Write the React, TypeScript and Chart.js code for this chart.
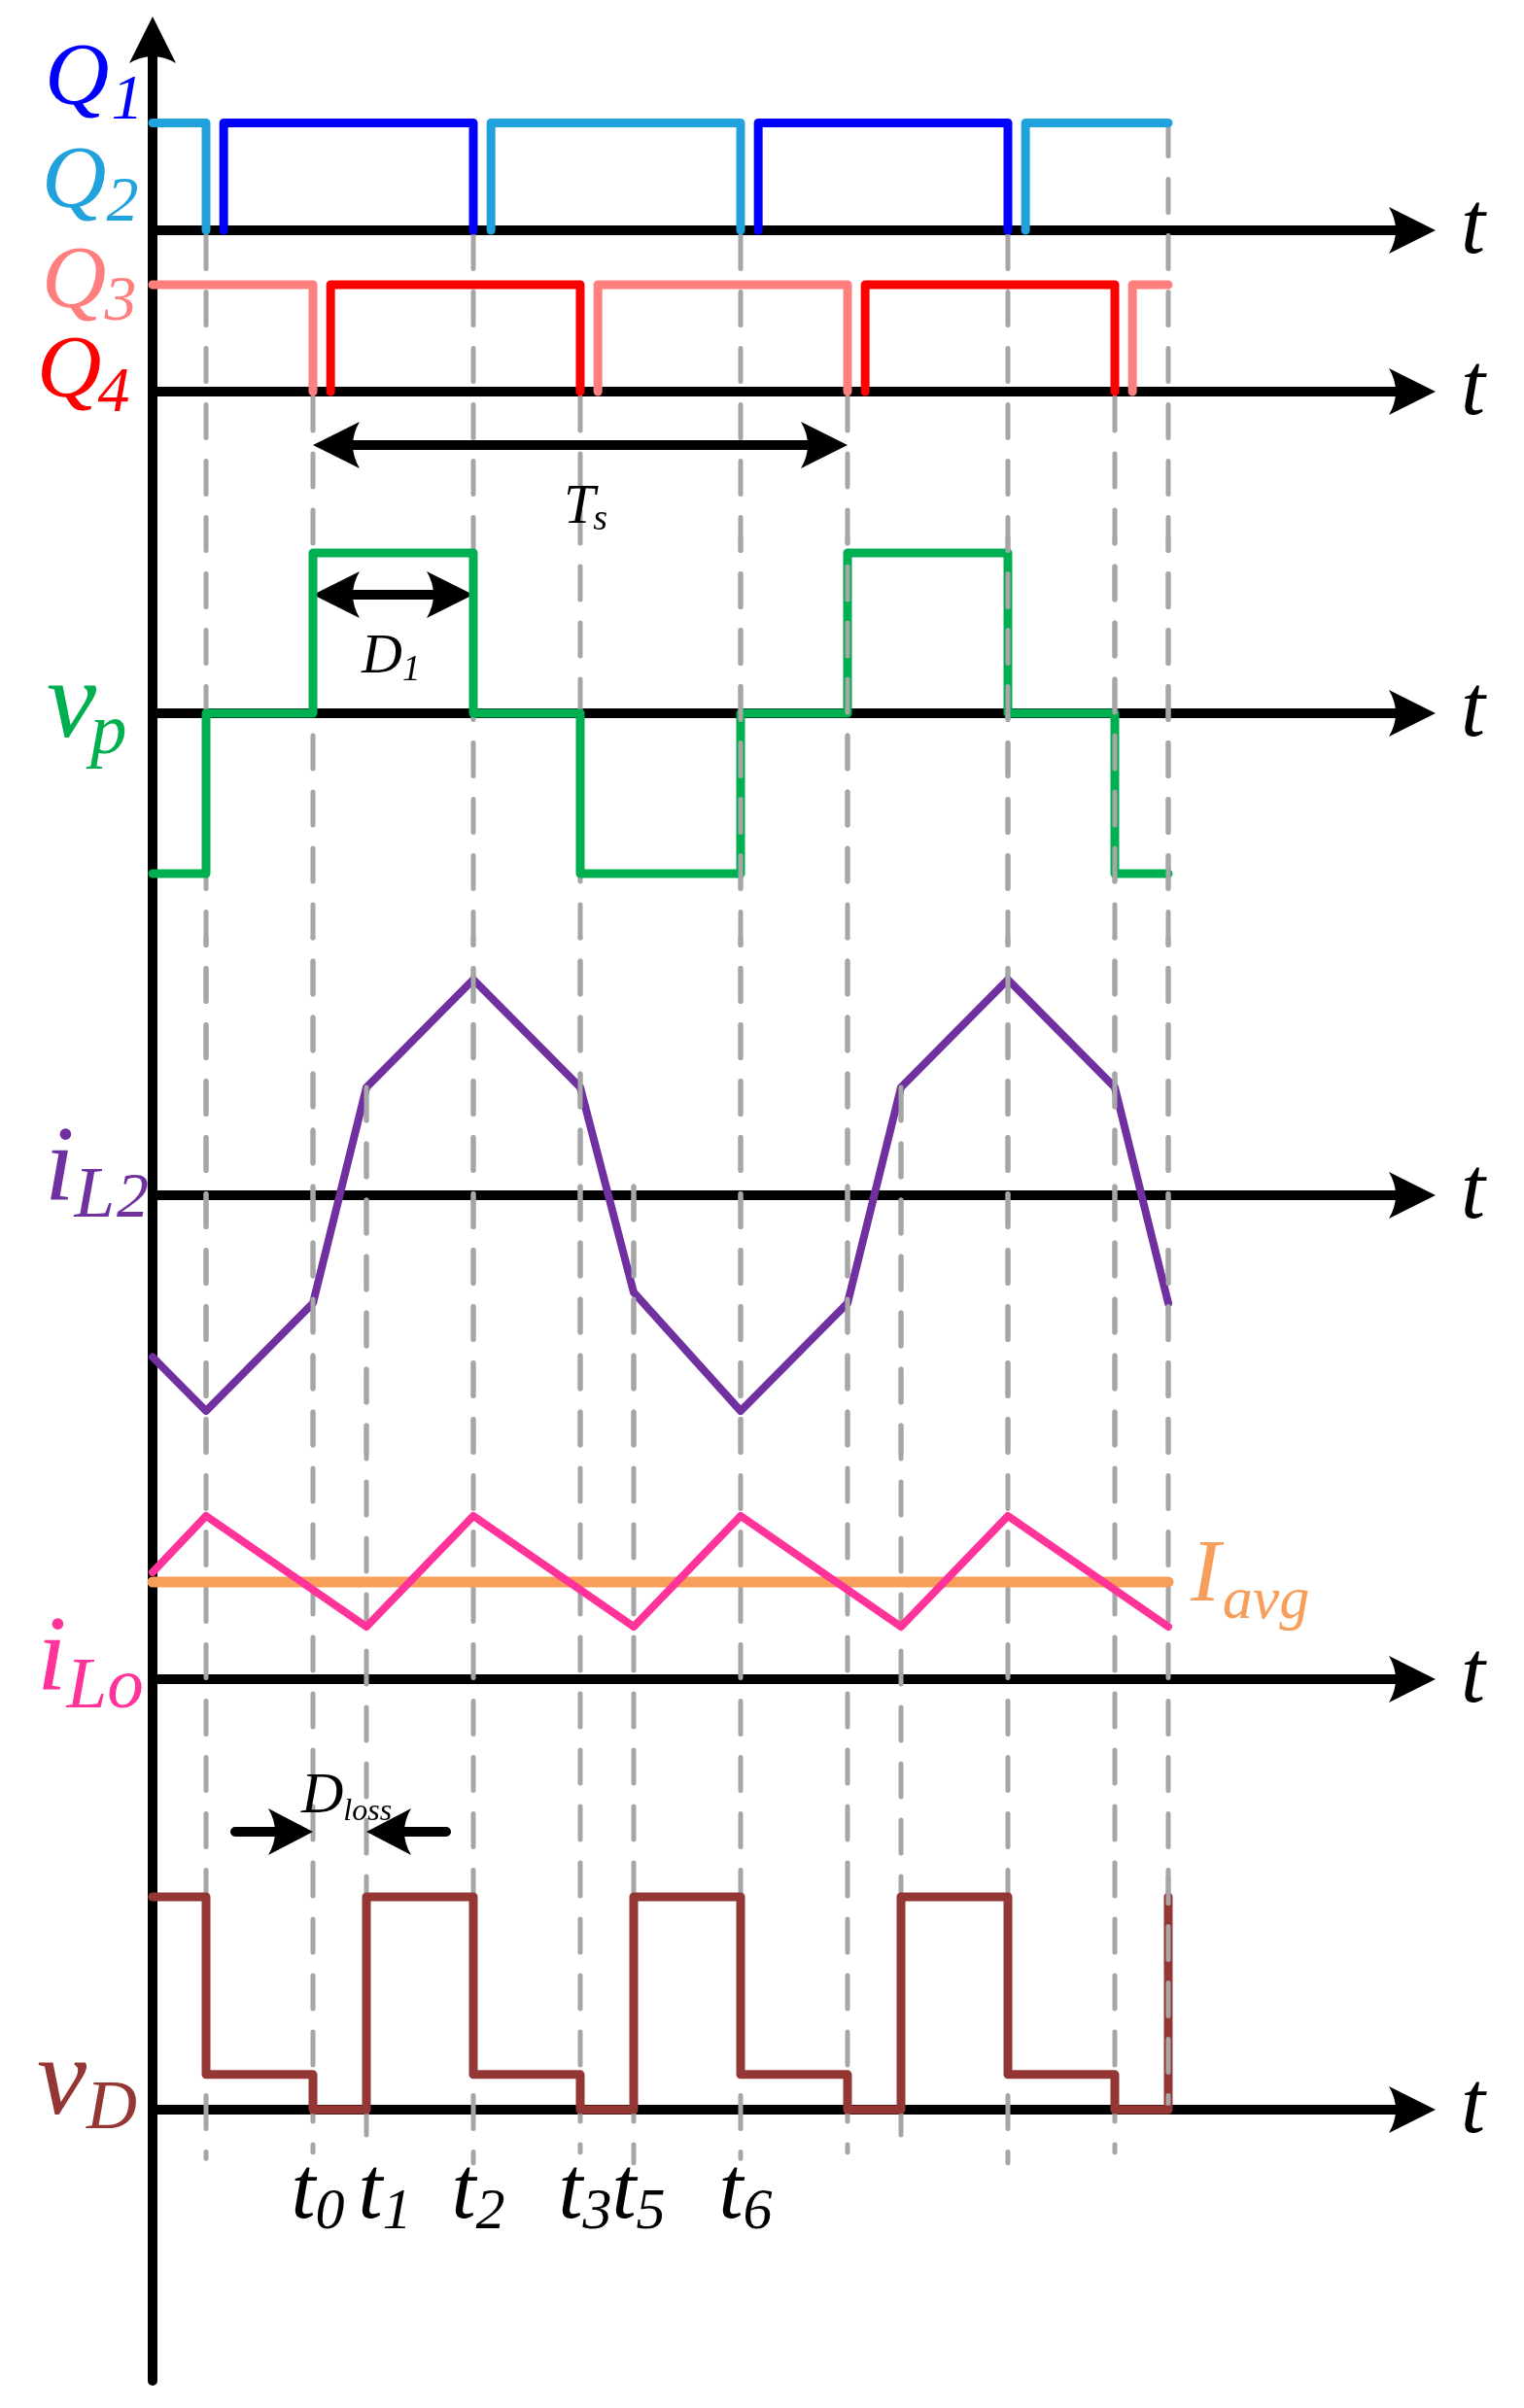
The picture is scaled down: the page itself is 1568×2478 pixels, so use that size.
import React, { useEffect, useRef } from 'react';
import { Chart, registerables } from 'chart.js';

Chart.register(...registerables);

const W = 1568;
const H = 2478;

// ---------- data (time in grid units, amplitudes normalised per panel) ----------
const T_END = 19;
const AXIS_END = 24;

const q1On = [[1.33, 6], [11.33, 16]];
const q2On = [[0, 1], [6.33, 11], [16.33, 19]];
const q3On = [[0, 3], [8.33, 13], [18.33, 19]];
const q4On = [[3.33, 8], [13.33, 18]];

const vpTimes = [0, 1, 3, 6, 8, 11, 13, 16, 18, 19];
const vpLevels = [-1, 0, 1, 0, -1, 0, 1, 0, -1];

const iL2Times = [0, 1, 3, 4, 6, 8, 9, 11, 13, 14, 16, 18, 19];
const iL2Values = [-0.75, -1, -0.5, 0.5, 1, 0.5, -0.45, -1, -0.5, 0.5, 1, 0.5, -0.5];

const iLoTimes = [0, 1, 4, 6, 9, 11, 14, 16, 19];
const iLoValues = [1.1, 1.68, 0.54, 1.68, 0.54, 1.68, 0.54, 1.68, 0.54];
const iAvgValue = 1.0;

const vDTimes = [0, 1, 3, 4, 6, 8, 9, 11, 13, 14, 16, 18, 19];
const vDLevels = [1, 0.165, 0, 1, 0.165, 0, 1, 0.165, 0, 1, 0.165, 0, 1];

const guideTimes = [1, 3, 4, 6, 8, 9, 11, 13, 14, 16, 18, 19];
const guideTopAxis = ['yQ12', 'yQ34', 'yIL2', 'yQ12', 'yQ34', 'yIL2', 'yQ12', 'yQ34', 'yIL2', 'yQ12', 'yQ34', 'yQ12'];
const guideTopValue = [1, 1, 0.5, 1, 1, 0.04, 1, 1, 0.5, 1, 1, 1];
const guideBottomValue = [-0.23, -0.2, -0.17, -0.25, -0.2, -0.25, -0.23, -0.2, -0.17, -0.25, -0.2, 0];

const tickSubs = ['0', '1', '2', '3', '5', '6'];
const tickTimes = [3, 4, 6, 8, 9, 11];

// ---------- layout ----------
const X0 = 157; // pixel of t = 0
const U = 55; // pixels per time unit
const panelLayout: Record<string, [number, number]> = {
  yQ12: [237, 110.5],
  yQ34: [403, 110],
  yVp: [734, 165],
  yIL2: [1230, 222],
  yILo: [1728, 100],
  yVD: [2171, 219],
};

const FONT = '"Liberation Serif", "Times New Roman", serif';
const C = {
  q1: '#0000FF',
  q2: '#22A2DC',
  q3: '#FF7F7F',
  q4: '#FF0000',
  vp: '#00B050',
  il2: '#7030A0',
  ilo: '#FF3399',
  avg: '#F79E5A',
  vd: '#943634',
  grid: '#A6A6A6',
};

function pulses(on: number[][]) {
  const pts: any[] = [];
  on.forEach(([a, b]) => {
    if (a > 0) pts.push({ x: a, y: 0 });
    pts.push({ x: a, y: 1 });
    pts.push({ x: b, y: 1 });
    if (b < T_END) pts.push({ x: b, y: 0 });
    pts.push({ x: b, y: null });
  });
  return pts;
}

function steps(times: number[], levels: number[]) {
  const pts: any[] = [];
  for (let i = 0; i < times.length - 1; i++) {
    pts.push({ x: times[i], y: levels[i] }, { x: times[i + 1], y: levels[i] });
  }
  if (levels.length === times.length) pts.push({ x: times[times.length - 1], y: levels[levels.length - 1] });
  return pts;
}

function pairs(times: number[], values: number[]) {
  return times.map((t, i) => ({ x: t, y: values[i] }));
}

function arrowHead(ctx: CanvasRenderingContext2D, tx: number, ty: number, dx: number, dy: number, len = 48, half = 24, notch = 7) {
  const bx = tx - dx * len;
  const by = ty - dy * len;
  const px = -dy;
  const py = dx;
  ctx.beginPath();
  ctx.moveTo(tx, ty);
  ctx.lineTo(bx + px * half, by + py * half);
  ctx.quadraticCurveTo(tx - dx * (len - notch * 2), ty - dy * (len - notch * 2), bx - px * half, by - py * half);
  ctx.closePath();
  ctx.fill();
}

function label(
  ctx: CanvasRenderingContext2D,
  main: string,
  sub: string,
  x: number,
  y: number,
  size: number,
  subSize: number,
  subDy: number,
  color: string,
  subDx = 0,
) {
  ctx.fillStyle = color;
  ctx.textAlign = 'left';
  ctx.textBaseline = 'alphabetic';
  ctx.font = `italic ${size}px ${FONT}`;
  ctx.fillText(main, x, y);
  const w = ctx.measureText(main).width;
  if (sub) {
    ctx.font = `italic ${subSize}px ${FONT}`;
    ctx.fillText(sub, x + w + subDx, y + subDy);
  }
}

function drawGuide(chart: any, i: number) {
  const ctx = chart.ctx;
  const x = chart.scales.x.getPixelForValue(guideTimes[i]);
  const yTop = chart.scales[guideTopAxis[i]].getPixelForValue(guideTopValue[i]);
  const yBot = chart.scales.yVD.getPixelForValue(guideBottomValue[i]);
  ctx.beginPath();
  ctx.moveTo(x, yTop);
  ctx.lineTo(x, yBot);
  ctx.stroke();
}

const diagramPlugin = {
  id: 'diagram',
  beforeDatasetsDraw(chart: any) {
    const ctx = chart.ctx as CanvasRenderingContext2D;
    const xs = chart.scales.x;
    const x0 = xs.getPixelForValue(0);
    const xTip = xs.getPixelForValue(AXIS_END);
    ctx.save();
    ctx.fillStyle = '#000';
    ctx.strokeStyle = '#000';
    ctx.lineWidth = 10;
    ctx.lineCap = 'butt';
    // horizontal time axes
    Object.keys(panelLayout).forEach((id) => {
      const y = chart.scales[id].getPixelForValue(0);
      ctx.beginPath();
      ctx.moveTo(x0, y);
      ctx.lineTo(xTip - 30, y);
      ctx.stroke();
      arrowHead(ctx, xTip, y, 1, 0);
    });
    // vertical axis
    ctx.lineCap = 'round';
    ctx.beginPath();
    ctx.moveTo(x0, 2450);
    ctx.lineTo(x0, 50);
    ctx.stroke();
    arrowHead(ctx, x0, 17, 0, -1);

    // dashed guides
    ctx.strokeStyle = C.grid;
    ctx.lineWidth = 5;
    ctx.lineCap = 'round';
    ctx.setLineDash([34, 24]);
    guideTimes.forEach((_, i) => drawGuide(chart, i));
    ctx.setLineDash([]);

    // dimension arrows
    ctx.strokeStyle = '#000';
    ctx.fillStyle = '#000';
    ctx.lineWidth = 10;
    ctx.lineCap = 'butt';
    const xa = xs.getPixelForValue(3);
    const xb = xs.getPixelForValue(13);
    const xd = xs.getPixelForValue(6);
    const xe = xs.getPixelForValue(4);
    // Ts
    ctx.beginPath();
    ctx.moveTo(xa + 30, 458);
    ctx.lineTo(xb - 30, 458);
    ctx.stroke();
    arrowHead(ctx, xa, 458, -1, 0);
    arrowHead(ctx, xb, 458, 1, 0);
    // D1
    ctx.beginPath();
    ctx.moveTo(xa + 30, 612);
    ctx.lineTo(xd - 30, 612);
    ctx.stroke();
    arrowHead(ctx, xa, 612, -1, 0);
    arrowHead(ctx, xd, 612, 1, 0);
    // Dloss
    ctx.lineCap = 'round';
    ctx.beginPath();
    ctx.moveTo(xa - 80, 1885);
    ctx.lineTo(xa - 30, 1885);
    ctx.moveTo(xe + 82, 1885);
    ctx.lineTo(xe + 30, 1885);
    ctx.stroke();
    arrowHead(ctx, xa, 1885, 1, 0, 46, 24);
    arrowHead(ctx, xe, 1885, -1, 0, 46, 24);
    ctx.restore();
  },
  afterDatasetsDraw(chart: any) {
    const ctx = chart.ctx as CanvasRenderingContext2D;
    const xs = chart.scales.x;
    ctx.save();
    // guides that show on top of signals
    ctx.strokeStyle = C.grid;
    ctx.lineWidth = 5;
    ctx.lineCap = 'round';
    ctx.setLineDash([34, 24]);
    const clipDraw = (y1: number, y2: number, pred: (t: number) => boolean) => {
      ctx.save();
      ctx.beginPath();
      ctx.rect(0, y1, W, y2 - y1);
      ctx.clip();
      guideTimes.forEach((t, i) => {
        if (pred(t)) drawGuide(chart, i);
      });
      ctx.restore();
    };
    const sv = chart.scales.yVp;
    clipDraw(sv.getPixelForValue(1.1), sv.getPixelForValue(-1.1), (t) => t >= 11);
    const si = chart.scales.yIL2;
    clipDraw(si.getPixelForValue(1.2), si.getPixelForValue(-1.2), () => true);
    const sd = chart.scales.yVD;
    clipDraw(sd.getPixelForValue(1.1), sd.getPixelForValue(0.02), (t) => t >= 19);
    ctx.setLineDash([]);

    // signal labels
    label(ctx, 'Q', '1', 46, 107, 92, 66, 15, C.q1, 2);
    label(ctx, 'Q', '2', 43, 213, 92, 66, 14, C.q2, 0);
    label(ctx, 'Q', '3', 43, 316, 92, 66, 13, C.q3, -2);
    label(ctx, 'Q', '4', 38, 408, 92, 66, 15, C.q4, -4);
    label(ctx, 'v', 'p', 48, 758, 115, 75, 17, C.vp, -6);
    label(ctx, 'i', 'L', 46, 1234, 110, 75, 18, C.il2, 0);
    label(ctx, '2', '', 120, 1252, 66, 0, 0, C.il2);
    label(ctx, 'i', 'Lo', 38, 1738, 110, 75, 19, C.ilo, 0);
    label(ctx, 'I', 'avg', 1225, 1647, 92, 62, 18, C.avg, 2);
    label(ctx, 'v', 'D', 38, 2175, 115, 72, 15, C.vd, 0);

    // annotation labels
    label(ctx, 'T', 's', 580, 538, 58, 38, 7, '#000', -2);
    label(ctx, 'D', '1', 372, 692, 58, 37, 8, '#000', 0);
    label(ctx, 'D', 'loss', 310, 1865, 60, 32, 8, '#000', 0);

    // axis "t" labels
    Object.keys(panelLayout).forEach((id) => {
      const y = chart.scales[id].getPixelForValue(0);
      label(ctx, 't', '', 1503, y + 23, 90, 0, 0, '#000');
    });

    // time instant labels
    ctx.font = `italic 90px ${FONT}`;
    const tw = ctx.measureText('t').width;
    ctx.font = `italic 60px ${FONT}`;
    tickTimes.forEach((t, i) => {
      const sw = ctx.measureText(tickSubs[i]).width;
      const cx = xs.getPixelForValue(t) + (i === 1 ? 19 : 5);
      label(ctx, 't', tickSubs[i], cx - (tw + sw) / 2, 2282, 90, 60, 11, '#000');
      ctx.font = `italic 60px ${FONT}`;
    });
    ctx.restore();
  },
};

function lineDs(data: any[], color: string, yAxisID: string, width = 9, order = 0) {
  return {
    data,
    borderColor: color,
    backgroundColor: color,
    borderWidth: width,
    borderCapStyle: 'round',
    borderJoinStyle: 'round',
    fill: false,
    pointRadius: 0,
    pointHoverRadius: 0,
    tension: 0,
    spanGaps: false,
    xAxisID: 'x',
    yAxisID,
    order,
    clip: false,
  };
}

export default function App() {
  const ref = useRef<HTMLCanvasElement>(null);
  useEffect(() => {
    let alive = true;
    const scales: any = {
      x: { type: 'linear', display: false, min: -X0 / U, max: (W - X0) / U, bounds: 'data' },
    };
    Object.keys(panelLayout).forEach((id) => {
      const [base, unit] = panelLayout[id];
      scales[id] = { type: 'linear', display: false, min: -(H - base) / unit, max: base / unit, bounds: 'data' };
    });
    const chart = new Chart(ref.current as HTMLCanvasElement, {
      type: 'line',
      data: {
        datasets: [
          lineDs(pulses(q1On), C.q1, 'yQ12', 9, 0),
          lineDs(pulses(q2On), C.q2, 'yQ12', 9, 1),
          lineDs(pulses(q4On), C.q4, 'yQ34', 9, 0),
          lineDs(pulses(q3On), C.q3, 'yQ34', 9, 1),
          lineDs(steps(vpTimes, vpLevels), C.vp, 'yVp', 9, 0),
          lineDs(pairs(iL2Times, iL2Values), C.il2, 'yIL2', 8, 0),
          lineDs(pairs(iLoTimes, iLoValues), C.ilo, 'yILo', 8, 0),
          lineDs(pairs([0, T_END], [iAvgValue, iAvgValue]), C.avg, 'yILo', 11, 2),
          lineDs(steps(vDTimes, vDLevels), C.vd, 'yVD', 9, 0),
        ] as any,
      },
      options: {
        animation: false,
        responsive: false,
        events: [],
        layout: { padding: 0 },
        plugins: { legend: { display: false }, tooltip: { enabled: false }, title: { display: false } },
        elements: { point: { radius: 0 } },
        scales,
      } as any,
      plugins: [diagramPlugin],
    });
    if ((document as any).fonts && (document as any).fonts.load) {
      Promise.all([
        (document as any).fonts.load(`italic 90px "Liberation Serif"`),
        (document as any).fonts.load(`90px "Liberation Serif"`),
      ]).then(() => {
        if (alive) chart.draw();
      }).catch(() => {});
    }
    return () => {
      alive = false;
      chart.destroy();
    };
  }, []);
  return (
    <div style={{ position: 'absolute', left: 0, top: 0, width: W, height: H, background: '#fff' }}>
      <span style={{ position: 'absolute', left: -9999, top: 0, fontFamily: '"Liberation Serif"', fontStyle: 'italic' }}>t</span>
      <canvas ref={ref} width={W} height={H} style={{ width: W, height: H, display: 'block' }} />
    </div>
  );
}
